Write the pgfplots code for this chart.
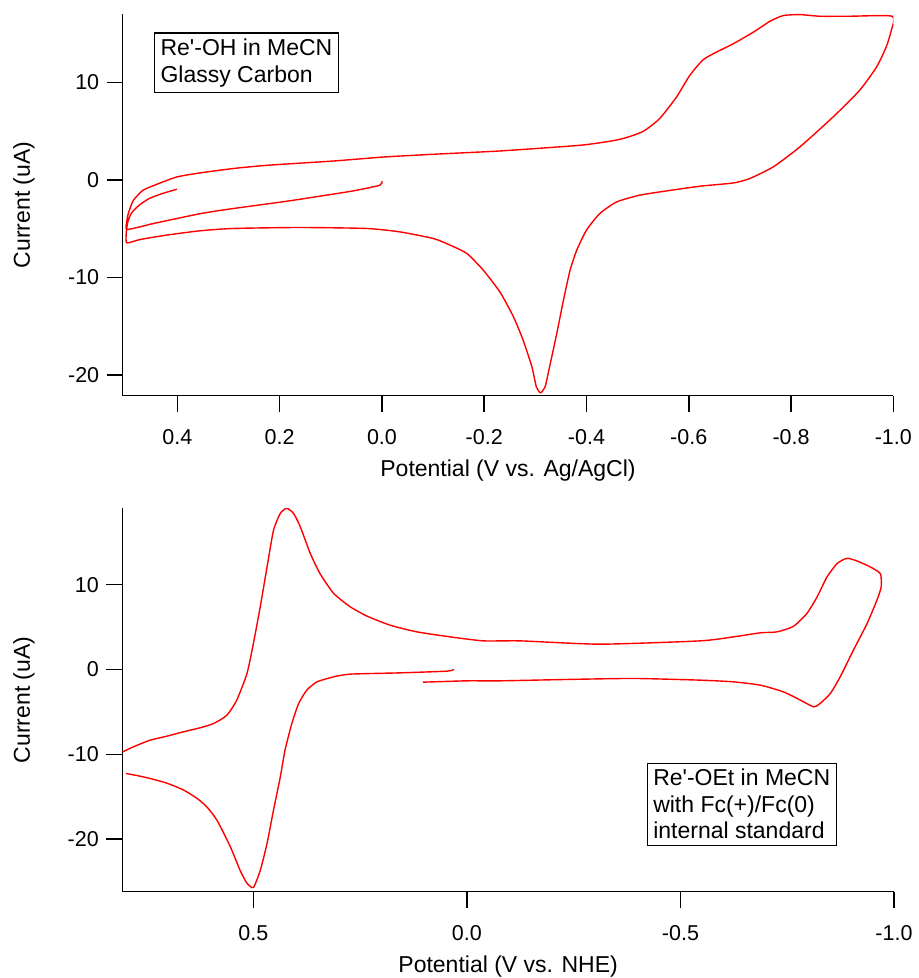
\documentclass[border=0pt]{standalone}
\usepackage{fontspec}
\setmainfont{Liberation Sans}[Ligatures=TeXOff]
\usepackage{pgfplots}
\pgfplotsset{compat=1.18}

\definecolor{cvred}{RGB}{255,0,0}

\pgfplotsset{
  cvaxis/.style={
    scale only axis,
    x dir=reverse,
    axis x line=bottom, axis y line=left,
    axis line style={-, line width=1.5bp, black},
    tick align=outside,
    major tick length=16bp,
    tick style={line width=1.5bp, black},
    minor tick num=0,
    tick label style={font=\fontsize{21.5bp}{24bp}\selectfont},
    xticklabel style={yshift=-14bp},
    yticklabel style={xshift=-4bp},
    ytick={-20,-10,0,10}, yticklabels={-20,-10,0,10},
    ylabel={Current (uA)},
    clip=true,
  },
  cvline/.style={cvred, line width=1.4bp, smooth, tension=0.35},
}

\begin{document}
\begin{tikzpicture}
\useasboundingbox (0,0) rectangle (919bp,978bp);

% top: Re'-OH, glassy carbon
\begin{axis}[cvaxis,
  at={(122.7bp,582.3bp)}, anchor=south west,
  width=770.6bp, height=381.7bp,
  xmin=-1.0, xmax=0.507, ymin=-22.1, ymax=17,
  xtick={0.4,0.2,0,-0.2,-0.4,-0.6,-0.8,-1.0},
  xticklabels={0.4,0.2,0.0,-0.2,-0.4,-0.6,-0.8,-1.0},
  xlabel={Potential (V vs. Ag/AgCl)},
  every axis x label/.style={at={(axis description cs:0.5,-0.2104)}, anchor=base,
    font=\fontsize{23bp}{26bp}\selectfont},
  every axis y label/.style={at={(axis description cs:-0.1203,0.5)}, rotate=90, anchor=base,
    font=\fontsize{23bp}{26bp}\selectfont},
]
\addplot[cvline] coordinates {
(0.000,-0.13) (0.004,-0.54) (0.056,-1.12) (0.120,-1.65) (0.186,-2.18)
(0.291,-2.93) (0.350,-3.40) (0.401,-3.95) (0.450,-4.50) (0.498,-5.07)
(0.499,-4.30) (0.496,-3.44) (0.486,-2.08) (0.467,-1.05) (0.440,-0.44)
(0.401,0.31) (0.356,0.72) (0.291,1.17) (0.225,1.50) (0.095,1.94)
(-0.003,2.35) (-0.100,2.63) (-0.231,2.97) (-0.387,3.55) (-0.450,4.00) (-0.478,4.34)
(-0.511,4.98) (-0.543,6.28) (-0.576,8.49) (-0.602,10.71) (-0.628,12.31)
(-0.654,13.09) (-0.687,13.95) (-0.726,15.13) (-0.759,16.26) (-0.785,16.84)
(-0.817,16.94) (-0.856,16.77) (-0.915,16.77) (-0.998,16.77)
(-0.996,15.3) (-0.986,13.6) (-0.967,11.55) (-0.934,9.17) (-0.882,6.44)
(-0.817,3.37) (-0.765,1.33) (-0.719,0.14) (-0.687,-0.31) (-0.622,-0.64)
(-0.557,-1.12) (-0.504,-1.56) (-0.459,-2.25) (-0.426,-3.44) (-0.400,-5.14)
(-0.381,-7.19) (-0.368,-9.23) (-0.355,-12.30) (-0.342,-15.7) (-0.328,-19.1)
(-0.319,-21.2) (-0.310,-21.8) (-0.302,-21.2) (-0.293,-19.1) (-0.276,-16.4)
(-0.257,-14.0) (-0.231,-11.5) (-0.198,-9.23) (-0.166,-7.53) (-0.130,-6.60) (-0.100,-5.99)
(-0.035,-5.32) (0.030,-4.97) (0.160,-4.87) (0.291,-4.97) (0.356,-5.21)
(0.421,-5.65) (0.473,-6.10) (0.499,-6.44)
(0.500,-5.40) (0.497,-4.30) (0.490,-3.40) (0.475,-2.60) (0.455,-1.90)
(0.430,-1.40) (0.401,-0.95)
};
\node[draw, line width=1.2bp, inner xsep=6bp, inner ysep=6bp, align=left,
      anchor=north west, font=\fontsize{23bp}{26.5bp}\selectfont]
  at (axis description cs:0.0406,0.952) {Re'-OH in MeCN\\Glassy Carbon};
\end{axis}

% bottom: Re'-OEt with ferrocene
\begin{axis}[cvaxis,
  at={(122.3bp,86.3bp)}, anchor=south west,
  width=771.7bp, height=383.4bp,
  xmin=-1.0, xmax=0.807, ymin=-26.2, ymax=19,
  xtick={0.5,0,-0.5,-1.0},
  xticklabels={0.5,0.0,-0.5,-1.0},
  xlabel={Potential (V vs. NHE)},
  every axis x label/.style={at={(axis description cs:0.5,-0.2113)}, anchor=base,
    font=\fontsize{23bp}{26bp}\selectfont},
  every axis y label/.style={at={(axis description cs:-0.1196,0.5)}, rotate=90, anchor=base,
    font=\fontsize{23bp}{26bp}\selectfont},
]
\addplot[cvline] coordinates {
(0.030,0.0) (0.047,-0.20) (0.156,-0.40) (0.273,-0.55) (0.312,-0.87)
(0.351,-1.46) (0.375,-2.44) (0.394,-4.01) (0.410,-6.37) (0.426,-9.52)
(0.437,-12.67) (0.453,-16.6) (0.468,-20.5) (0.484,-23.7) (0.500,-25.7)
(0.515,-25.2) (0.531,-23.7) (0.554,-20.9) (0.585,-17.8) (0.609,-16.2)
(0.632,-15.2) (0.664,-14.2) (0.703,-13.4) (0.742,-12.85) (0.773,-12.5)
(0.798,-12.27)
};
\addplot[cvline] coordinates {
(0.806,-9.71) (0.781,-9.12) (0.742,-8.34) (0.703,-7.87) (0.664,-7.35)
(0.625,-6.88) (0.593,-6.37) (0.562,-5.39) (0.539,-3.62) (0.515,-0.47)
(0.500,3.07) (0.484,7.38) (0.468,12.1) (0.453,16.4) (0.437,18.4)
(0.422,19.0) (0.406,18.4) (0.390,16.8) (0.367,13.7) (0.344,11.3)
(0.312,8.96) (0.273,7.38) (0.234,6.29) (0.180,5.22) (0.117,4.43)
(0.039,3.84) (-0.039,3.37) (-0.125,3.37) (-0.312,2.98) (-0.546,3.37)
(-0.624,3.84) (-0.687,4.32) (-0.726,4.43) (-0.765,5.10) (-0.796,6.60)
(-0.820,8.56) (-0.843,10.9) (-0.867,12.5) (-0.890,13.1) (-0.913,12.8)
(-0.944,12.1) (-0.968,11.3) (-0.970,9.74) (-0.960,8.17) (-0.937,5.42)
(-0.905,2.28) (-0.874,-0.87) (-0.851,-2.83) (-0.827,-4.01) (-0.812,-4.41)
(-0.781,-3.62) (-0.741,-2.64) (-0.687,-1.85) (-0.624,-1.46) (-0.546,-1.26)
(-0.390,-1.06) (-0.234,-1.18) (-0.078,-1.34) (0.000,-1.34) (0.103,-1.50)
};
\node[draw, line width=1.2bp, inner xsep=6bp, inner ysep=6bp, align=left,
      anchor=north west, font=\fontsize{23bp}{26.5bp}\selectfont]
  at (axis description cs:0.6795,0.3365) {Re'-OEt in MeCN\\with Fc(+)/Fc(0)\\internal standard};
\end{axis}
\end{tikzpicture}
\end{document}
